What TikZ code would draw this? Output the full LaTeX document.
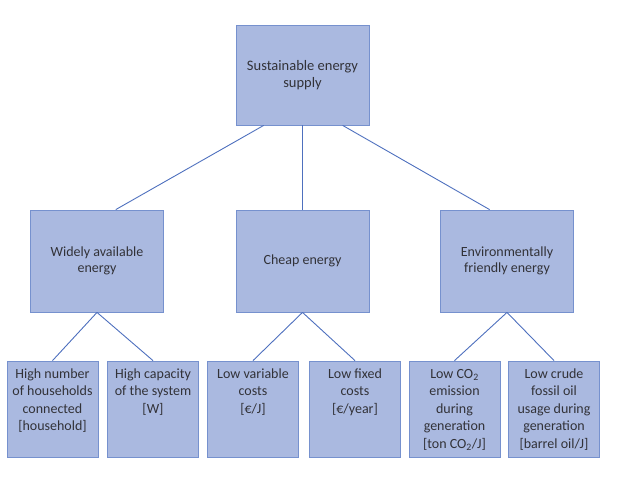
\documentclass[tikz,border=0pt]{standalone}
\usepackage{fontspec}
\setmainfont{Carlito}
\usetikzlibrary{calc}

\definecolor{boxfill}{RGB}{170,185,224}
\definecolor{boxline}{RGB}{118,145,206}
\definecolor{linkblue}{RGB}{78,112,190}
\definecolor{textgray}{RGB}{50,50,56}

\newcommand{\leaftext}[1]{\parbox[t][86pt][t]{89pt}{\centering\strut #1}}

\begin{document}
\begin{tikzpicture}[node distance=205pt,
  box/.style={draw=boxline, fill=boxfill, line width=0.8pt, text=textgray,
    align=center, minimum width=133pt, inner sep=0pt,
    font=\fontsize{14}{16.5}\selectfont},
  leaf/.style={draw=boxline, fill=boxfill, line width=0.8pt, text=textgray,
    inner xsep=1pt, inner ysep=5pt, font=\fontsize{14}{17.5}\selectfont},
  link/.style={draw=linkblue, line width=0.9pt}]
  \useasboundingbox (0,0) rectangle (622pt,-483pt);

  % Goal
  \node[box, minimum height=100pt, font=\fontsize{14.5}{16.5}\selectfont] (supply) at (302.5pt,-75pt) {Sustainable energy\\supply};

  % Criteria
  \node[box, minimum height=102pt, below of=supply, node distance=186pt] (cheap) {Cheap energy};
  \node[box, minimum height=102pt, left of=cheap, node distance=205.5pt] (widely) {Widely available\\energy};
  \node[box, minimum height=102pt, right of=cheap, node distance=204.5pt] (green) {Environmentally\\friendly energy};

  % Indicators
  \node[leaf] (households) at (52.5pt,-409pt) {\leaftext{High number\\of households\\connected\\{}[household]}};
  \node[leaf] (capacity) at (153pt,-409pt) {\leaftext{High capacity\\of the system\\{}[W]}};
  \node[leaf] (variable) at (253pt,-409pt) {\leaftext{Low variable\\costs\\{}[€/J]}};
  \node[leaf] (fixed) at (355pt,-409pt) {\leaftext{Low fixed\\costs\\{}[€/year]}};
  \node[leaf] (emission) at (454.5pt,-409pt) {\leaftext{Low CO\textsubscript{2}\\emission\\during\\generation\\{}[ton CO\textsubscript{2}/J]}};
  \node[leaf] (fossil) at (554pt,-409pt) {\leaftext{Low crude\\fossil oil\\usage during\\generation\\{}[barrel oil/J]}};

  \draw[link] ($(supply.south west)!0.21!(supply.south east)$) -- ($(widely.north west)!0.64!(widely.north east)$);
  \draw[link] (supply.south) -- (cheap.north);
  \draw[link] ($(supply.south west)!0.80!(supply.south east)$) -- ($(green.north west)!0.37!(green.north east)$);

  \draw[link] (widely.south) -- (households.north);
  \draw[link] (widely.south) -- (capacity.north);
  \draw[link] (cheap.south) -- (variable.north);
  \draw[link] (cheap.south) -- (fixed.north);
  \draw[link] (green.south) -- (emission.north);
  \draw[link] (green.south) -- (fossil.north);

\end{tikzpicture}
\end{document}
